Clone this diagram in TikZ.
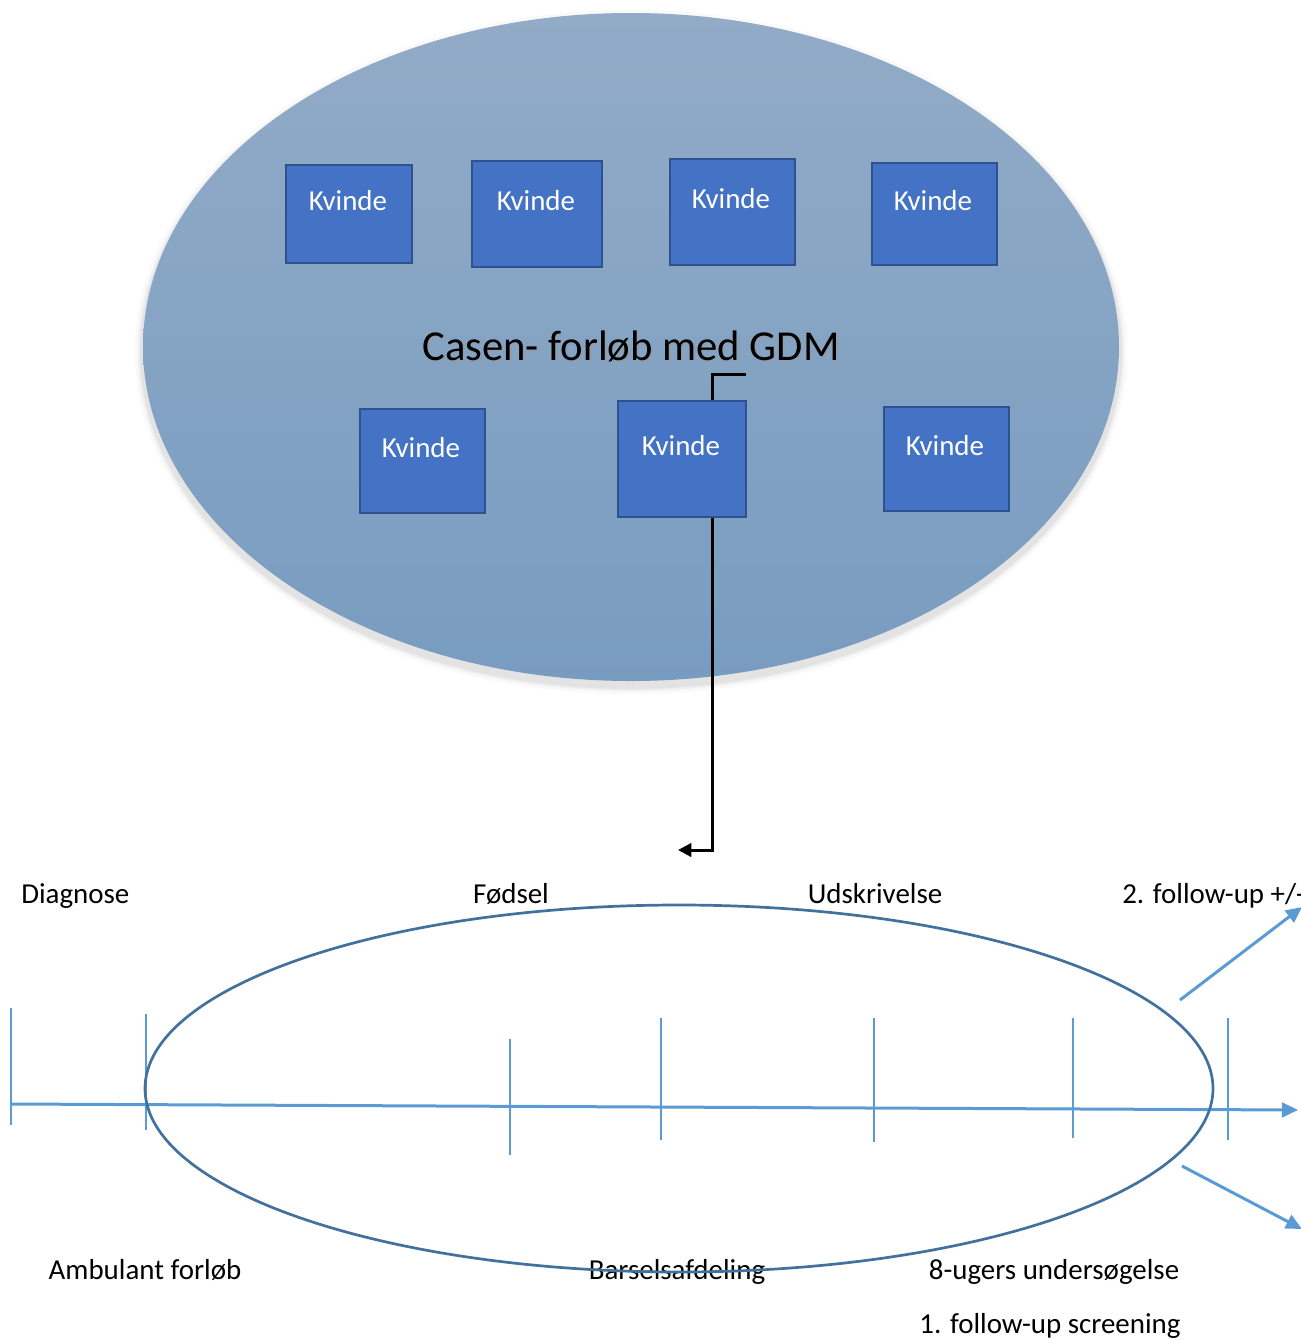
\documentclass[tikz,border=0pt]{standalone}
\usepackage{fontspec}
\setmainfont{Carlito}
\usetikzlibrary{arrows.meta,calc}
\definecolor{boxfill}{HTML}{4472C4}
\definecolor{boxline}{HTML}{2F528F}
\definecolor{tl}{HTML}{5B9BD5}
\definecolor{ell}{HTML}{41719C}
\tikzset{
  kbox/.style={draw=boxline, line width=2.4pt*0.75, fill=boxfill, inner sep=0pt, anchor=north west},
  ktext/.style={text=white, font=\fontsize{21.7}{24}\selectfont, anchor=base, inner sep=0pt},
  lbl/.style={text=black, font=\fontsize{21.7}{24}\selectfont, anchor=base, inner sep=0pt},
  conn/.style={line width=3pt*0.75, black},
  tick/.style={tl, line width=1.6pt*0.75},
  tarrow/.style={tl, line width=3pt*0.75, -{Triangle[length=12pt,width=11pt]}},
}
\begin{document}
\begin{tikzpicture}[x=0.75pt,y=-0.75pt]
\useasboundingbox (0,0) rectangle (1301,1340);
% big ellipse with soft shadow
\foreach \i/\o in {8/0.025,5/0.04,3/0.05}{
  \fill[black,opacity=\o] (631,352) ellipse [x radius={488+\i}, y radius={334+\i}];
}
\shade[top color={rgb,255:red,146;green,171;blue,199}, bottom color={rgb,255:red,120;green,156;blue,192}]
  (631,347) ellipse [x radius=488, y radius=334];
% boxes
\node[kbox, minimum width=126*0.75pt, minimum height=98*0.75pt] (k1) at (285,164) {};
\node[kbox, minimum width=130*0.75pt, minimum height=106*0.75pt] (k2) at (471,160) {};
\node[kbox, minimum width=125*0.75pt, minimum height=106*0.75pt] (k3) at (669,158) {};
\node[kbox, minimum width=125*0.75pt, minimum height=102*0.75pt] (k4) at (871,162) {};
\node[kbox, minimum width=125*0.75pt, minimum height=104*0.75pt] (k5) at (359,408) {};
\node[kbox, minimum width=128*0.75pt, minimum height=116*0.75pt] (k6) at (617,400) {};
\node[kbox, minimum width=125*0.75pt, minimum height=104*0.75pt] (k7) at (883,406) {};
\node[ktext] (t1) at (348,210) {Kvinde};
\node[ktext] (t2) at (536,210) {Kvinde};
\node[ktext] (t3) at (731,208) {Kvinde};
\node[ktext] (t4) at (933,210) {Kvinde};
\node[ktext] (t5) at (421,457) {Kvinde};
\node[ktext] (t6) at (681,455) {Kvinde};
\node[ktext] (t7) at (945,455) {Kvinde};
% title with shadow
\node[lbl, font=\fontsize{32}{36}\selectfont, text=black!40, opacity=0.45] at (633,362) {Casen- forløb med GDM};
\node[lbl, font=\fontsize{32}{36}\selectfont] (title) at (631,360) {Casen- forløb med GDM};
% connectors
\coordinate (ktop) at ($(k6.north)+(30,0)$);
\coordinate (kend) at ($(ktop)+(34,-26)$);
\draw[conn] (kend) -- (ktop |- kend) -- (ktop);
\coordinate (kbot) at ($(k6.south)+(30,0)$);
\coordinate (ktgt) at (678,850);
\draw[conn, -{Triangle[length=10pt,width=10pt]}] (kbot) -- (kbot |- ktgt) -- (ktgt);
% timeline labels
\node[lbl, anchor=base west] (diag) at (21,903) {Diagnose};
\node[lbl] (fod) at (511,903) {Fødsel};
\node[lbl] (udsk) at (875,903) {Udskrivelse};
\node[lbl, anchor=base west] (fu2) at (1122,903) {2. follow-up +/-};
\node[lbl] (amb) at (145,1279) {Ambulant forløb};
\node[lbl] (bars) at (677,1279) {Barselsafdeling};
\node[lbl] (uger) at (1054,1279) {8-ugers undersøgelse};
\node[lbl] (fu1) at (1050,1333) {1. follow-up screening};
% ticks
\coordinate (a0) at (10,1104);
\coordinate (a1) at (1298,1110);
\draw[tick] (11,1008) -- (11,1125);
\draw[tick] (146,1014) -- (146,1130);
\draw[tick] (510,1039) -- (510,1155);
\draw[tick] (661,1018) -- (661,1140);
\draw[tick] (874,1018) -- (874,1142);
\draw[tick] (1073,1018) -- (1073,1138);
\draw[tick] (1228,1018) -- (1228,1140);
% timeline arrow
\draw[tarrow] (a0) -- (a1);
% diagonal arrows
\coordinate (d1s) at (1180,1000);
\coordinate (d1e) at (1302,907);
\coordinate (d2s) at (1182,1166);
\coordinate (d2e) at (1302,1229);
\draw[tarrow] (d1s) -- (d1e);
\draw[tarrow] (d2s) -- (d2e);
% bottom ellipse
\draw[ell, line width=2.7pt*0.75] (679,1088.5) ellipse [x radius=534, y radius=183.5];
\end{tikzpicture}
\end{document}
